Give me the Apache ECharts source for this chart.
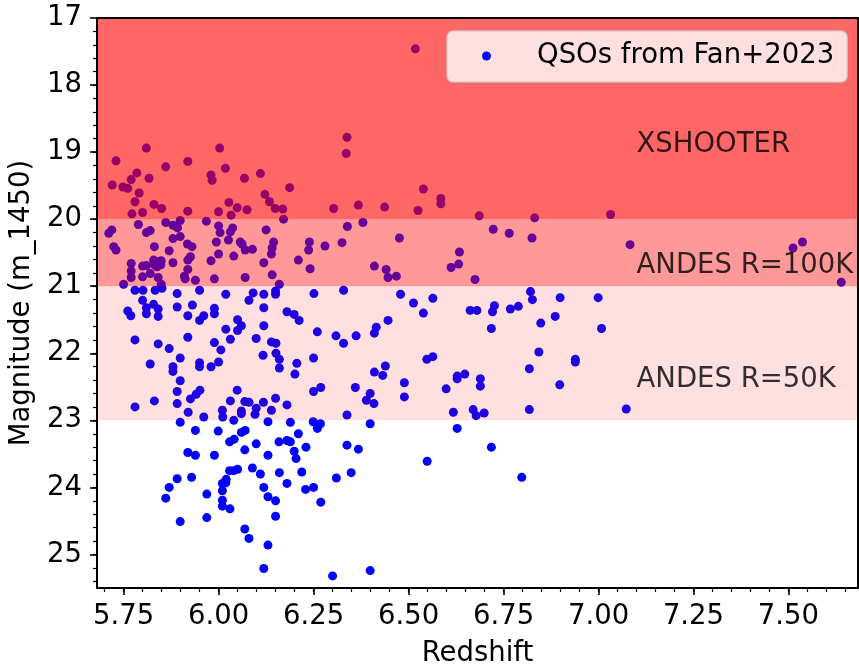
<!DOCTYPE html>
<html>
<head>
<meta charset="utf-8">
<title>QSO magnitudes vs redshift</title>
<script src="https://cdn.jsdelivr.net/npm/echarts@6/dist/echarts.min.js"></script>
<style>
  html, body { margin: 0; padding: 0; background: #ffffff; }
  #chart { width: 859px; height: 665px; }
</style>
</head>
<body>
<div id="chart"></div>
<script>
// Quasar redshifts and apparent magnitudes at 1450 Å (Fan+2023 sample)
const redshift = [
  6.338, 6.336, 5.810, 6.003, 5.730, 5.919, 5.861, 6.018, 5.785, 6.110,
  5.980, 5.983, 5.817, 5.770, 6.068, 5.720, 5.748, 5.761, 6.187, 5.791,
  6.122, 5.780, 6.134, 6.027, 5.830, 5.850, 6.049, 6.075, 6.149, 6.169,
  6.303, 6.368, 6.437, 5.772, 5.800, 5.919, 6.000, 6.033, 6.171, 5.899,
  5.968, 5.861, 6.380, 5.711, 5.719, 5.789, 5.810, 5.820, 5.880, 5.892,
  5.880, 5.899, 5.831, 5.870, 5.918, 5.930, 5.724, 5.730, 6.000, 6.004,
  6.031, 6.037, 6.026, 5.994, 6.057, 6.062, 6.070, 6.089, 6.125, 6.145,
  6.141, 6.139, 6.239, 6.237, 6.280, 6.325, 6.339, 6.000, 6.040, 5.926,
  5.919, 5.880, 5.980, 6.119, 6.210, 6.241, 6.410, 6.441, 6.446, 5.770,
  5.770, 5.770, 5.800, 5.810, 5.829, 5.831, 5.841, 5.849, 5.848, 5.838,
  5.820, 5.800, 5.841, 5.849, 5.750, 5.919, 5.910, 5.912, 5.939, 5.989,
  6.070, 6.141, 6.160, 5.780, 5.801, 5.833, 5.851, 5.891, 5.950, 6.019,
  6.091, 6.080, 6.119, 6.150, 6.150, 6.251, 6.329, 5.800, 5.829, 5.841,
  5.810, 5.810, 5.841, 5.761, 5.769, 5.891, 5.931, 5.919, 5.961, 5.950,
  5.989, 5.989, 6.119, 6.180, 6.199, 6.212, 6.446, 6.050, 6.060, 6.050,
  6.019, 6.119, 6.415, 6.410, 5.780, 5.919, 5.841, 5.870, 5.989, 6.031,
  6.006, 6.099, 6.139, 6.151, 6.260, 6.309, 6.329, 6.362, 5.820, 5.880,
  5.880, 5.899, 5.950, 5.950, 5.980, 6.000, 6.117, 6.151, 6.160, 6.160,
  6.206, 6.201, 6.250, 6.439, 6.410, 6.432, 5.899, 5.891, 5.831, 5.926,
  5.941, 5.951, 6.049, 6.250, 6.269, 6.360, 6.399, 6.389, 6.409, 6.150,
  5.780, 5.891, 5.920, 5.961, 6.010, 6.011, 6.031, 6.040, 6.060, 6.060,
  6.069, 6.080, 6.099, 6.096, 6.118, 6.139, 6.180, 6.130, 6.189, 6.249,
  6.268, 6.260, 6.338, 6.399, 5.899, 5.939, 5.999, 6.029, 6.041, 6.060,
  6.070, 6.159, 6.180, 6.189, 6.210, 6.099, 6.069, 6.199, 6.204, 6.230,
  5.919, 5.939, 5.989, 6.130, 6.338, 6.368, 6.029, 6.040, 6.050, 6.089,
  6.110, 6.160, 6.219, 6.349, 5.891, 5.929, 5.870, 5.861, 6.020, 6.010,
  6.019, 6.010, 6.010, 6.010, 6.030, 5.969, 6.119, 6.130, 6.150, 6.180,
  6.229, 6.250, 6.269, 6.310, 5.899, 5.969, 6.150, 6.069, 6.080, 6.130,
  6.119, 6.300, 6.399, 6.518, 6.539, 6.585, 6.585, 6.525, 6.686, 6.832,
  7.032, 6.476, 6.723, 6.765, 6.825, 7.083, 7.512, 7.537, 6.634, 6.632,
  6.612, 6.468, 6.675, 7.639, 6.479, 6.513, 6.539, 6.564, 6.662, 6.680,
  6.726, 6.721, 6.768, 6.789, 6.821, 6.826, 6.899, 6.999, 6.886, 6.848,
  6.718, 7.008, 6.548, 6.564, 6.489, 6.489, 6.599, 6.628, 6.628, 6.648,
  6.689, 6.689, 6.843, 6.818, 6.939, 6.939, 6.898, 6.618, 6.670, 6.678,
  6.699, 6.818, 7.073, 6.628, 6.718, 6.549, 6.798
];
const mag1450 = [
  18.78, 19.02, 18.94, 18.94, 19.13, 19.14, 19.22, 19.24, 19.31, 19.32,
  19.34, 19.42, 19.39, 19.41, 19.39, 19.49, 19.52, 19.54, 19.53, 19.61,
  19.63, 19.74, 19.74, 19.75, 19.78, 19.84, 19.83, 19.86, 19.84, 19.85,
  19.84, 19.79, 19.82, 19.92, 19.90, 19.88, 19.89, 19.94, 20.00, 20.02,
  20.03, 20.05, 20.05, 20.21, 20.16, 20.08, 20.20, 20.17, 20.09, 20.13,
  20.29, 20.26, 20.41, 20.47, 20.37, 20.41, 20.41, 20.46, 20.10, 20.20,
  20.19, 20.13, 20.31, 20.34, 20.34, 20.37, 20.46, 20.45, 20.16, 20.34,
  20.43, 20.52, 20.34, 20.46, 20.40, 20.35, 20.11, 20.52, 20.55, 20.56,
  20.61, 20.65, 20.62, 20.65, 20.61, 20.74, 20.70, 20.75, 20.87, 20.66,
  20.77, 20.87, 20.70, 20.69, 20.61, 20.68, 20.63, 20.62, 20.68, 20.71,
  20.81, 20.86, 20.87, 20.97, 20.97, 20.75, 20.85, 20.89, 20.91, 20.89,
  20.87, 20.83, 20.97, 21.06, 21.06, 21.06, 21.03, 21.11, 21.06, 21.12,
  21.10, 21.21, 21.12, 21.07, 21.12, 21.11, 21.06, 21.21, 21.27, 21.34,
  21.32, 21.41, 21.45, 21.37, 21.44, 21.31, 21.28, 21.44, 21.44, 21.51,
  21.33, 21.41, 21.32, 21.38, 21.42, 21.51, 21.51, 21.50, 21.59, 21.66,
  21.64, 21.59, 21.61, 21.70, 21.80, 21.76, 21.86, 21.93, 21.84, 21.79,
  21.95, 21.78, 21.83, 21.85, 21.68, 21.74, 21.85, 21.74, 22.16, 22.20,
  22.27, 22.07, 22.14, 22.20, 22.20, 22.13, 22.03, 22.00, 22.09, 22.22,
  22.15, 22.31, 22.07, 22.19, 22.28, 22.33, 22.41, 22.57, 22.71, 22.68,
  22.61, 22.55, 22.55, 22.57, 22.51, 22.51, 22.60, 22.70, 22.75, 22.67,
  22.80, 22.75, 22.88, 22.95, 22.85, 22.95, 22.71, 23.00, 22.86, 22.90,
  22.72, 22.73, 22.82, 22.91, 22.73, 22.85, 22.77, 23.02, 23.03, 23.02,
  23.05, 23.12, 22.92, 23.05, 23.03, 23.15, 23.16, 23.32, 23.28, 23.18,
  23.15, 23.32, 23.30, 23.32, 23.20, 23.35, 23.44, 23.46, 23.57, 23.40,
  23.48, 23.52, 23.52, 23.52, 23.37, 23.43, 23.75, 23.75, 23.73, 23.71,
  23.80, 23.78, 23.77, 23.78, 23.87, 23.85, 24.00, 24.16, 23.88, 23.94,
  23.93, 24.05, 24.19, 24.28, 24.32, 24.10, 24.00, 24.14, 24.20, 23.94,
  24.03, 24.00, 24.22, 23.86, 24.51, 24.45, 24.43, 24.62, 24.76, 24.86,
  25.21, 25.32, 25.24, 17.46, 19.55, 19.69, 19.77, 19.87, 19.95, 19.98,
  19.93, 20.28, 20.15, 20.21, 20.28, 20.38, 20.43, 20.34, 20.49, 20.67,
  20.72, 20.85, 20.90, 20.94, 21.12, 21.25, 21.40, 21.18, 21.36, 21.36,
  21.29, 21.38, 21.34, 21.30, 21.08, 21.20, 21.17, 21.17, 21.45, 21.55,
  21.63, 21.63, 22.09, 22.05, 22.44, 22.65, 22.53, 22.38, 22.34, 22.31,
  22.38, 22.49, 21.98, 22.23, 22.09, 22.13, 22.47, 22.88, 22.84, 22.93,
  22.89, 22.84, 22.83, 23.12, 23.40, 23.61, 23.85
];

// Instrument magnitude limits (shaded bands) and their captions
const bandNames = ['XSHOOTER', 'ANDES R=100K', 'ANDES R=50K'];
const bandBright = [17, 20, 21];
const bandFaint = [20, 21, 23];
const captionRedshift = 7.1;
const captionMag = [19, 20.8, 22.5];

// Tick labels
const xTickValues = [5.75, 6.00, 6.25, 6.50, 6.75, 7.00, 7.25, 7.50];
const yTickValues = [17, 18, 19, 20, 21, 22, 23, 24, 25];

const seriesName = 'QSOs from Fan+2023';

// ---- styling ----
const FONT = 'DejaVu Sans';
const FS = 27.5;
const X_MIN = 5.68, X_MAX = 7.683;
const Y_MIN = 17, Y_MAX = 25.5;
const bandOpacity = [0.6, 0.4, 0.12];

function minorTicks(lo, hi, step) {
  const out = [];
  const n = Math.round((hi - lo) / step);
  for (let i = 0; i <= n; i++) out.push(+(lo + i * step).toFixed(4));
  return out;
}
const xMinor = minorTicks(5.70, 7.65, 0.05);
const yMinor = minorTicks(17.2, 25.4, 0.2);

const points = redshift.map((z, i) => [z, mag1450[i]]);
const bands = bandNames.map((n, i) => [bandBright[i], bandFaint[i], i]);
const captions = bandNames.map((n, i) => [captionRedshift, captionMag[i], n]);

const axisLineStyle = { color: '#000', width: 2 };

const chart = echarts.init(document.getElementById('chart'), null, { renderer: 'canvas' });
chart.setOption({
  animation: false,
  backgroundColor: '#ffffff',
  textStyle: { fontFamily: FONT },
  grid: { left: 97, right: 1, top: 18, bottom: 77, containLabel: false, outerBoundsMode: 'none' },
  xAxis: [
    {
      type: 'value', position: 'bottom', min: X_MIN, max: X_MAX, z: 10,
      name: 'Redshift', nameLocation: 'middle', nameGap: 52,
      nameTextStyle: { fontFamily: FONT, fontSize: FS, color: '#000' },
      axisLine: { show: true, onZero: false, lineStyle: axisLineStyle },
      axisTick: { show: true, customValues: xTickValues, length: 7, lineStyle: { color: '#000', width: 1.6 } },
      axisLabel: { show: true, customValues: xTickValues, margin: 15, fontFamily: FONT, fontSize: FS, color: '#000',
                   formatter: v => v.toFixed(2) },
      splitLine: { show: false }
    },
    {
      type: 'value', position: 'bottom', min: X_MIN, max: X_MAX, z: 10,
      axisLine: { show: false, onZero: false },
      axisTick: { show: true, customValues: xMinor, length: 4, lineStyle: { color: '#000', width: 1.2 } },
      axisLabel: { show: false },
      splitLine: { show: false }
    },
    {
      type: 'value', position: 'top', min: X_MIN, max: X_MAX, z: 10,
      axisLine: { show: true, onZero: false, lineStyle: axisLineStyle },
      axisTick: { show: false }, axisLabel: { show: false }, splitLine: { show: false }
    }
  ],
  yAxis: [
    {
      type: 'value', position: 'left', inverse: true, min: Y_MIN, max: Y_MAX, z: 10,
      name: 'Magnitude (m_1450)', nameLocation: 'middle', nameGap: 58, nameRotate: 90,
      nameTextStyle: { fontFamily: FONT, fontSize: FS, color: '#000' },
      axisLine: { show: true, onZero: false, lineStyle: axisLineStyle },
      axisTick: { show: true, customValues: yTickValues, length: 7, lineStyle: { color: '#000', width: 1.6 } },
      axisLabel: { show: true, customValues: yTickValues, margin: 15, fontFamily: FONT, fontSize: FS, color: '#000',
                   formatter: v => String(Math.round(v)) },
      splitLine: { show: false }
    },
    {
      type: 'value', position: 'left', inverse: true, min: Y_MIN, max: Y_MAX, z: 10,
      axisLine: { show: false, onZero: false },
      axisTick: { show: true, customValues: yMinor, length: 4, lineStyle: { color: '#000', width: 1.2 } },
      axisLabel: { show: false },
      splitLine: { show: false }
    },
    {
      type: 'value', position: 'right', inverse: true, min: Y_MIN, max: Y_MAX, z: 10,
      axisLine: { show: true, onZero: false, lineStyle: axisLineStyle },
      axisTick: { show: false }, axisLabel: { show: false }, splitLine: { show: false }
    }
  ],
  legend: {
    data: [seriesName],
    left: 447, top: 31,
    z: 20,
    orient: 'horizontal',
    padding: [11, 13, 12, 35],
    itemWidth: 9, itemHeight: 9,
    icon: 'circle',
    backgroundColor: 'rgba(255,255,255,0.8)',
    borderColor: 'rgba(204,204,204,0.8)',
    borderWidth: 1.5,
    borderRadius: 6,
    formatter: name => '{gap|}' + name,
    textStyle: {
      fontFamily: FONT, fontSize: FS, color: '#000',
      rich: { gap: { width: 41 } }
    }
  },
  series: [
    {
      name: seriesName,
      type: 'scatter',
      xAxisIndex: 0, yAxisIndex: 0,
      z: 2,
      symbol: 'circle',
      symbolSize: 9,
      itemStyle: { color: '#0000ff', opacity: 1 },
      data: points
    },
    {
      name: 'bands',
      type: 'custom',
      xAxisIndex: 0, yAxisIndex: 0,
      z: 3,
      silent: true,
      encode: { y: [0, 1] },
      renderItem: function (params, api) {
        const top = api.coord([X_MIN, api.value(0)]);
        const bot = api.coord([X_MIN, api.value(1)]);
        const cs = params.coordSys;
        const a = bandOpacity[api.value(2)];
        return {
          type: 'rect',
          shape: { x: cs.x, y: Math.min(top[1], bot[1]), width: cs.width, height: Math.abs(bot[1] - top[1]) },
          style: { fill: 'rgba(255,0,0,' + a + ')' }
        };
      },
      data: bands
    },
    {
      name: 'captions',
      type: 'scatter',
      xAxisIndex: 0, yAxisIndex: 0,
      z: 4,
      silent: true,
      symbolSize: 0,
      label: {
        show: true,
        position: 'right',
        distance: 0,
        offset: [0, -7],
        fontFamily: FONT, fontSize: FS, color: '#000',
        textBorderWidth: 0,
        formatter: p => p.value[2]
      },
      data: captions
    }
  ]
});
</script>
</body>
</html>
